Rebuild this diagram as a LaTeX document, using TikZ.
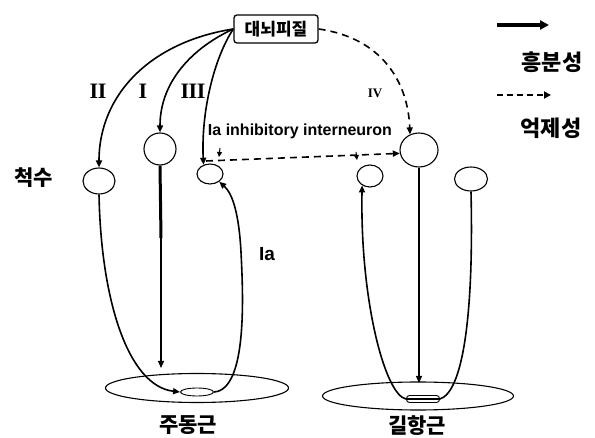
\documentclass[tikz,border=0pt]{standalone}
\usepackage{fontspec}
\setmainfont{Liberation Sans}
\newfontfamily\kr{Noto Sans CJK KR}
\newfontfamily\romf{Liberation Serif}
\usetikzlibrary{arrows.meta,shapes.geometric}
\begin{document}
\begin{tikzpicture}[x=1pt,y=-1pt,
  cell/.style={draw, ellipse, inner sep=0pt, line width=1.1pt},
  muscle/.style={draw, ellipse, inner sep=0pt, line width=1.1pt},
  tip/.style={-{Triangle[length=7pt,width=6pt]}},
  exc/.style={tip, line width=1.6pt},
  inh/.style={tip, line width=1.6pt, dash pattern=on 7pt off 5pt},
  krl/.style={font=\kr\bfseries\fontsize{21}{21}\selectfont},
  rom/.style={font=\romf\bfseries\fontsize{22}{22}\selectfont, inner sep=0pt},
  sans/.style={font=\bfseries\fontsize{16}{16}\selectfont, inner sep=0pt}]
\useasboundingbox (0,0) rectangle (595,438);
\fill[white] (0,0) rectangle (595,438);

% cortex box
\node[draw, rounded corners=3pt, line width=1.3pt, minimum width=84pt, minimum height=28pt, inner sep=0pt,
      font=\kr\bfseries\fontsize{17}{17}\selectfont] (cx) at (276,29) {대뇌피질};

% spinal cells
\node[cell, minimum width=32pt, minimum height=26pt] (sp1) at (99,181) {};
\node[cell, minimum width=32pt, minimum height=32pt] (sp2) at (160,149) {};
\node[cell, minimum width=26pt, minimum height=20pt] (sp3) at (210,174) {};
\node[cell, minimum width=26pt, minimum height=22pt] (an1) at (370,176) {};
\node[cell, minimum width=38pt, minimum height=34pt] (an2) at (419,150) {};
\node[cell, minimum width=33pt, minimum height=24pt] (an3) at (471,179) {};

% muscles
\node[muscle, minimum width=183pt, minimum height=29pt] (m1) at (197,388) {};
\node[muscle, minimum width=33pt, minimum height=8pt, line width=0.9pt] (m1in) at (197,392) {};
\node[muscle, minimum width=191pt, minimum height=28pt] (m2) at (418,396) {};
\node[draw, rounded corners=3pt, line width=0.9pt, minimum width=33pt, minimum height=7pt, inner sep=0pt] (m2in) at (423,399) {};

% labels
\node[krl] (lsp) at (34,178) {척수};
\node[krl] (lm1) at (188,425) {주동근};
\node[krl] (lm2) at (417,426) {길항근};
\node[krl, font=\kr\bfseries\fontsize{22}{22}\selectfont] (lex) at (552,62) {흥분성};
\node[krl, font=\kr\bfseries\fontsize{22}{22}\selectfont] (lin) at (551,128) {억제성};
\node[rom] (r2) at (98,91) {I\kern-0.5pt I};
\node[rom] (r1) at (143,91) {I};
\node[rom] (r3) at (193,91) {I\kern-0.5pt I\kern-0.5pt I};
\node[rom, font=\romf\bfseries\fontsize{13}{13}\selectfont] (r4) at (375,93) {IV};
\node[sans, font=\bfseries\fontsize{19}{19}\selectfont] (lia) at (267,254) {Ia};
\node[sans] (lint) at (300,131) {Ia inhibitory interneuron};

% legend
\coordinate (lg1a) at (497,25); \coordinate (lg1b) at (549,25);
\coordinate (lg2a) at (497,95); \coordinate (lg2b) at (551,95);
\draw[-{Triangle[length=9pt,width=9pt]}, line width=3.5pt] (lg1a) -- (lg1b);
\draw[-{Triangle[length=7pt,width=7pt]}, line width=1.8pt, dash pattern=on 6pt off 4pt] (lg2a) -- (lg2b);

% descending pathways
\draw[exc] (cx.west) .. controls (150,42) and (99,95) .. (sp1.north);
\draw[exc] (cx.west) .. controls (192,48) and (160,82) .. (sp2.north);
\draw[exc] (cx.west) .. controls (214,58) and (201,112) .. (sp3.125);
\draw[inh] (cx.east) .. controls (382,38) and (408,82) .. (an2.120);

% Ia inhibitory interneuron
\coordinate (ia) at (206,161);
\coordinate (br) at (356,152);
\draw[inh] (ia) -- (an2.190);
\draw[-{Triangle[length=5pt,width=5pt]}, line width=1pt] (220,148) -- (219,157);
\draw[-{Triangle[length=5pt,width=5pt]}, line width=1pt] (br) -- (357,160);

% agonist side
\draw[exc] (sp1.south) .. controls (101,300) and (128,386) .. (m1in.west);
\draw[line width=3pt] (sp2.south) -- (161,238) coordinate (sp2m);
\draw[exc, line width=1.3pt] (sp2m) -- (161,368);
\draw[exc] (m1in.east) .. controls (248,390) and (243,292) .. (241,252)
           .. controls (239,215) and (233,194) .. (sp3.-40);

% antagonist side
\draw[exc, line width=1.3pt] (an2.south) -- (419,383);
\draw[exc] (an3.south) .. controls (474,320) and (462,392) .. (m2in.east)
           -- (m2in.west) .. controls (385,395) and (360,300) .. (an1.230);
\end{tikzpicture}
\end{document}
